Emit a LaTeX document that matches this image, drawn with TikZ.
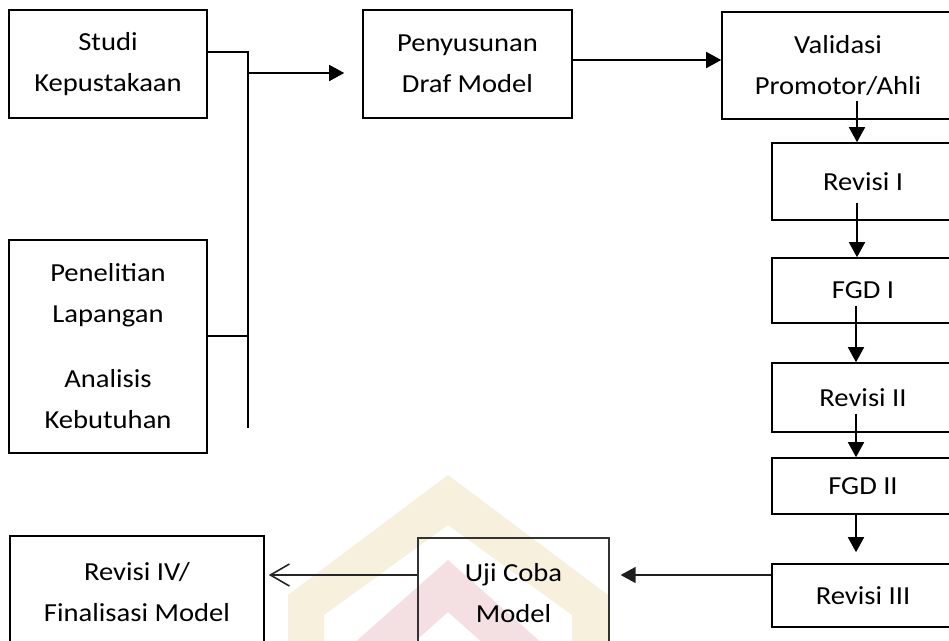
\documentclass[tikz,border=0pt]{standalone}
\usepackage{fontspec}
\setmainfont{Carlito}[FakeStretch=1.1]
\usetikzlibrary{arrows.meta}
\definecolor{wmyellow}{HTML}{F6F0DC}
\definecolor{wmpink}{HTML}{F4E0E2}
\tikzset{
  box/.style={draw=black, line width=1.6pt, align=center, inner sep=0pt,
    font=\fontsize{26pt}{41pt}\selectfont},
  arr/.style={line width=1.6pt, -{Triangle[length=15pt,width=16pt]}},
  conn/.style={line width=1.6pt},
  openarr/.style={line width=1.6pt, draw=black!85, -{Straight Barb[length=19pt,width=22pt,line width=1.6pt]}},
}
\begin{document}
\begin{tikzpicture}[x=1pt,y=-1pt]
\useasboundingbox (0,0) rectangle (949,640);
\clip (0,0) rectangle (949,640);
\fill[white] (0,0) rectangle (949,640);
% faint watermark
\fill[wmyellow, even odd rule] (288,645) -- (288,595) -- (448,475) -- (608,595) -- (608,645) -- cycle
  (324,645) -- (324,615) -- (448,525) -- (572,615) -- (572,645) -- cycle;
\fill[wmpink, even odd rule] (352,645) -- (448,560) -- (544,645) -- cycle
  (411,645) -- (448,612) -- (485,645) -- cycle;

% nodes
\node[box, minimum width=198pt, minimum height=108pt] (studi) at (108,64) {Studi\\Kepustakaan};
\node[box, minimum width=198pt, minimum height=213pt] (lap) at (108,346.5) {Penelitian\\Lapangan\\[24pt]Analisis\\Kebutuhan};
\node[box, minimum width=209pt, minimum height=108pt] (peny) at (467.5,64) {Penyusunan\\Draf Model};
\node[box, minimum width=232pt, minimum height=107pt] (valid) at (838,65.5) {Validasi\\Promotor/Ahli};
\node[box, minimum width=182pt, minimum height=77pt] (rev1) at (863,181.5) {Revisi I};
\node[box, minimum width=182pt, minimum height=65pt] (fgd1) at (863,290.5) {FGD I};
\node[box, minimum width=182pt, minimum height=69pt] (rev2) at (863,397.5) {Revisi II};
\node[box, minimum width=182pt, minimum height=56pt] (fgd2) at (863,486) {FGD II};
\node[box, minimum width=182pt, minimum height=63pt] (rev3) at (863,595.5) {Revisi III};
\node[box, draw=black!80, line width=1.3pt, minimum width=191pt, minimum height=110pt] (uji) at (513.5,593) {Uji Coba\\Model};
\node[box, minimum width=254pt, minimum height=112pt] (rev4) at (137,592) {Revisi IV/\\Finalisasi Model};

% junction
\coordinate (jtop) at (248,52);
\coordinate (jbot) at (248,428);
\coordinate (jmid) at (248,73);
\coordinate (jlap) at (248,336);
\draw[conn] ([yshift=12pt]studi.east) -- (jtop) -- (jbot);
\draw[conn] ([yshift=10.5pt]lap.east) -- (jlap);
\draw[arr] (jmid) -- ([xshift=-18pt,yshift=-9pt]peny.west);
\draw[arr] ([yshift=4pt]peny.east) -- ([yshift=5.5pt]valid.west);

% right column
\draw[arr] ([xshift=-6pt,yshift=19pt]rev1.north |- valid.south) -- ([xshift=-6pt]rev1.north);
\draw[arr] ([xshift=-6pt,yshift=18pt]rev1.south) -- ([xshift=-6pt]fgd1.north);
\draw[arr] ([xshift=-7pt,yshift=18pt]fgd1.south) -- ([xshift=-7pt]rev2.north);
\draw[arr] ([xshift=-7pt,yshift=19pt]rev2.south) -- ([xshift=-7pt]fgd2.north);
\draw[arr] ([xshift=-7pt]fgd2.south) -- ([xshift=-7pt,yshift=11pt]rev3.north);

% bottom row
\draw[arr, draw=black!88, fill=black!88] ([yshift=20.5pt]rev3.west) -- ([xshift=11pt,yshift=18pt]uji.east);
\draw[openarr] ([yshift=18pt]uji.west) -- ([xshift=4pt,yshift=17pt]rev4.east);
\end{tikzpicture}
\end{document}
